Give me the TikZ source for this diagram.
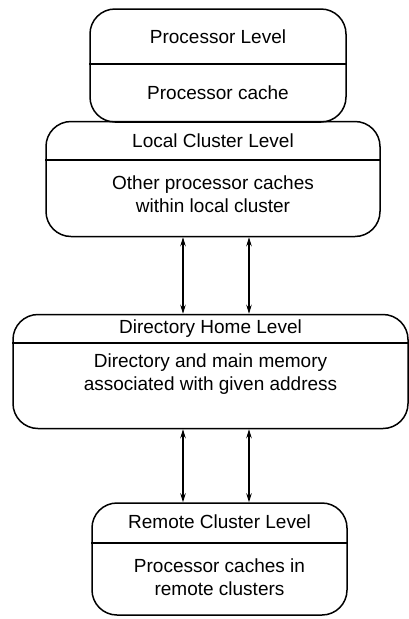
\documentclass[tikz,border=0pt]{standalone}
\usepackage{fontspec}
\setmainfont{Liberation Sans}
\usetikzlibrary{arrows.meta}
\begin{document}
\begin{tikzpicture}[x=1pt,y=-1pt,
  levelbox/.style={draw, line width=1.5pt, rounded corners=25pt, inner sep=0pt},
  label/.style={font=\fontsize{19}{23}\selectfont, align=center, inner sep=0pt},
  divider/.style={line width=1.5pt},
  link/.style={line width=1.1pt, {Stealth[length=9pt,width=5.5pt]}-{Stealth[length=9pt,width=5.5pt]}}]
\useasboundingbox (0,0) rectangle (409,619);

% Processor level
\node[levelbox, minimum width=256pt, minimum height=113pt] (b1) at (218,65.5) {};
\coordinate (d1) at (0,64);
\draw[divider] (b1.west |- d1) -- (b1.east |- d1);
\node[label] (t1a) at (218,36.5) {Processor Level};
\node[label] (t1b) at (218,93) {Processor cache};

% Local cluster level
\node[levelbox, minimum width=334pt, minimum height=115pt] (b2) at (213,179) {};
\coordinate (d2) at (0,160);
\draw[divider] (b2.west |- d2) -- (b2.east |- d2);
\node[label] (t2a) at (213,141) {Local Cluster Level};
\node[label] (t2b) at (213,194) {Other processor caches\\within local cluster};

% Directory home level
\node[levelbox, minimum width=395pt, minimum height=114pt] (b3) at (210.5,371.5) {};
\coordinate (d3) at (0,343);
\draw[divider] (b3.west |- d3) -- (b3.east |- d3);
\node[label] (t3a) at (210.5,328.5) {Directory Home Level};
\node[label] (t3b) at (210.5,374) {Directory and main memory\\associated with given address};

% Remote cluster level
\node[levelbox, minimum width=255pt, minimum height=112pt] (b4) at (219.5,559) {};
\coordinate (d4) at (0,543);
\draw[divider] (b4.west |- d4) -- (b4.east |- d4);
\node[label] (t4a) at (219.5,522) {Remote Cluster Level};
\node[label] (t4b) at (219.5,577) {Processor caches in\\remote clusters};

% Two bidirectional links between consecutive levels
\coordinate (xl) at (183,0);
\coordinate (xr) at (249,0);
\draw[link] (b2.south -| xl) -- (b3.north -| xl);
\draw[link] (b2.south -| xr) -- (b3.north -| xr);
\draw[link] (b3.south -| xl) -- (b4.north -| xl);
\draw[link] (b3.south -| xr) -- (b4.north -| xr);
\end{tikzpicture}
\end{document}
